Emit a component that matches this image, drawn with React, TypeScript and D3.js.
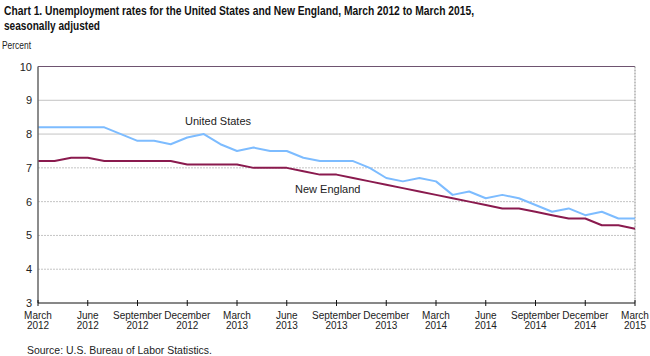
import React from "react";
import * as d3 from "d3";

const months: string[] = [
  "2012-03","2012-04","2012-05","2012-06","2012-07","2012-08","2012-09","2012-10","2012-11","2012-12",
  "2013-01","2013-02","2013-03","2013-04","2013-05","2013-06","2013-07","2013-08","2013-09","2013-10","2013-11","2013-12",
  "2014-01","2014-02","2014-03","2014-04","2014-05","2014-06","2014-07","2014-08","2014-09","2014-10","2014-11","2014-12",
  "2015-01","2015-02","2015-03",
];
const usValues: number[] = [
  8.2, 8.2, 8.2, 8.2, 8.2, 8.0, 7.8, 7.8, 7.7, 7.9,
  8.0, 7.7, 7.5, 7.6, 7.5, 7.5, 7.3, 7.2, 7.2, 7.2, 7.0, 6.7,
  6.6, 6.7, 6.6, 6.2, 6.3, 6.1, 6.2, 6.1, 5.9, 5.7, 5.8, 5.6,
  5.7, 5.5, 5.5,
];
const neValues: number[] = [
  7.2, 7.2, 7.3, 7.3, 7.2, 7.2, 7.2, 7.2, 7.2, 7.1,
  7.1, 7.1, 7.1, 7.0, 7.0, 7.0, 6.9, 6.8, 6.8, 6.7, 6.6, 6.5,
  6.4, 6.3, 6.2, 6.1, 6.0, 5.9, 5.8, 5.8, 5.7, 5.6, 5.5, 5.5,
  5.3, 5.3, 5.2,
];
const xTickLabels: [string, string][] = [
  ["March", "2012"], ["June", "2012"], ["September", "2012"], ["December", "2012"],
  ["March", "2013"], ["June", "2013"], ["September", "2013"], ["December", "2013"],
  ["March", "2014"], ["June", "2014"], ["September", "2014"], ["December", "2014"],
  ["March", "2015"],
];
const yTicks: number[] = [3, 4, 5, 6, 7, 8, 9, 10];

const titleLine1 = "Chart 1. Unemployment rates for the United States and New England, March 2012 to March 2015,";
const titleLine2 = "seasonally adjusted";

export default function App() {
  const W = 650, H = 356;
  const left = 38, right = 635, top = 66.5, bottom = 303;
  const x = d3.scaleLinear().domain([0, months.length - 1]).range([left, right]);
  const y = d3.scaleLinear().domain([3, 10]).range([bottom, top]);
  const line = d3.line<number>().x((_, i) => x(i)).y((d) => y(d));
  const font = "Arial, 'Liberation Sans', sans-serif";
  return (
    <svg width={W} height={H} style={{ position: "absolute", left: 0, top: 0, background: "#fff" }} fontFamily={font}>
      <rect x={0} y={0} width={W} height={H} fill="#fff" />
      <text x={4} y={14.5} fontSize={13.5} fontWeight="bold" fill="#111" textLength={470} lengthAdjust="spacingAndGlyphs">{titleLine1}</text>
      <text x={4} y={29.5} fontSize={13.5} fontWeight="bold" fill="#111" textLength={96} lengthAdjust="spacingAndGlyphs">{titleLine2}</text>
      <text x={2} y={49} fontSize={11} fill="#222" textLength={29} lengthAdjust="spacingAndGlyphs">Percent</text>

      {yTicks.filter((t) => t > 3 && t < 10).map((t) => (
        <line key={t} x1={left} x2={right} y1={y(t)} y2={y(t)} stroke="#c4c4c4" strokeWidth={1} strokeDasharray={t <= 7 ? "2,1" : undefined} />
      ))}
      <line x1={left} x2={right} y1={y(10)} y2={y(10)} stroke="#6e5470" strokeWidth={1} />
      <line x1={right} x2={right} y1={y(10)} y2={bottom} stroke="#999" strokeWidth={1.2} strokeDasharray="2,1" />

      {yTicks.map((t) => (
        <text key={t} x={32} y={y(t) + 4} fontSize={11} textAnchor="end" fill="#222">{t}</text>
      ))}

      <path d={line(usValues) || ""} fill="none" stroke="#7dbcff" strokeWidth={2} strokeLinejoin="round" />
      <path d={line(neValues) || ""} fill="none" stroke="#8a1a4e" strokeWidth={2} strokeLinejoin="round" />

      <line x1={left} x2={left} y1={top} y2={bottom} stroke="#666" strokeWidth={1.5} />
      <line x1={left} x2={right} y1={bottom} y2={bottom} stroke="#111" strokeWidth={1} />

      {xTickLabels.map((lab, k) => {
        const xx = x(k * 3);
        return (
          <g key={k}>
            <line x1={xx} x2={xx} y1={bottom - 3} y2={bottom + 3} stroke="#111" strokeWidth={1} />
            <text x={xx} y={318.5} fontSize={10} textAnchor="middle" fill="#222">{lab[0]}</text>
            <text x={xx} y={329} fontSize={10} textAnchor="middle" fill="#222">{lab[1]}</text>
          </g>
        );
      })}

      <text x={185} y={125} fontSize={11} fill="#222">United States</text>
      <text x={295} y={193} fontSize={11} fill="#222">New England</text>

      <text x={27} y={354} fontSize={10.5} fill="#222" textLength={185} lengthAdjust="spacingAndGlyphs">Source: U.S. Bureau of Labor Statistics.</text>
    </svg>
  );
}
